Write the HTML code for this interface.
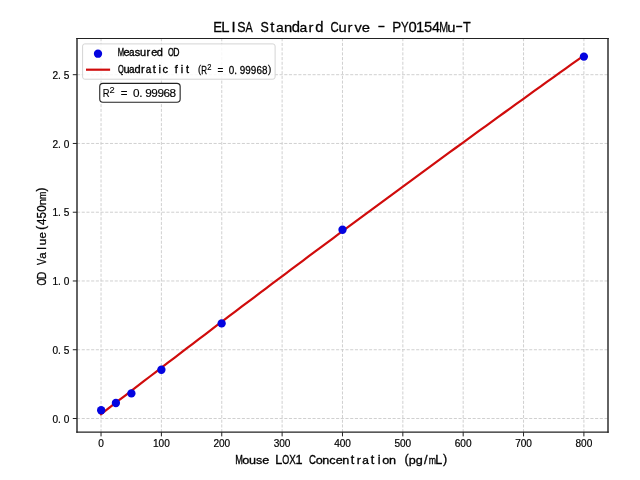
<!DOCTYPE html>
<html><head><meta charset="utf-8"><style>
html,body{margin:0;padding:0;background:#fff;overflow:hidden;}
svg{display:block;}
text{font-family:"Liberation Sans", sans-serif;white-space:pre;}
.t{opacity:0.999;}
</style></head><body>
<svg width="640" height="480" viewBox="0 0 640 480">
<rect width="640" height="480" fill="#fff"/>
<g class="t"><line x1="101.04" y1="432.20" x2="101.04" y2="38.50" stroke="#cecece" stroke-width="0.95" stroke-dasharray="3.1 1.61"/>
<line x1="161.40" y1="432.20" x2="161.40" y2="38.50" stroke="#cecece" stroke-width="0.95" stroke-dasharray="3.1 1.61"/>
<line x1="221.75" y1="432.20" x2="221.75" y2="38.50" stroke="#cecece" stroke-width="0.95" stroke-dasharray="3.1 1.61"/>
<line x1="282.11" y1="432.20" x2="282.11" y2="38.50" stroke="#cecece" stroke-width="0.95" stroke-dasharray="3.1 1.61"/>
<line x1="342.47" y1="432.20" x2="342.47" y2="38.50" stroke="#cecece" stroke-width="0.95" stroke-dasharray="3.1 1.61"/>
<line x1="402.83" y1="432.20" x2="402.83" y2="38.50" stroke="#cecece" stroke-width="0.95" stroke-dasharray="3.1 1.61"/>
<line x1="463.18" y1="432.20" x2="463.18" y2="38.50" stroke="#cecece" stroke-width="0.95" stroke-dasharray="3.1 1.61"/>
<line x1="523.54" y1="432.20" x2="523.54" y2="38.50" stroke="#cecece" stroke-width="0.95" stroke-dasharray="3.1 1.61"/>
<line x1="583.90" y1="432.20" x2="583.90" y2="38.50" stroke="#cecece" stroke-width="0.95" stroke-dasharray="3.1 1.61"/>
<line x1="77.00" y1="418.50" x2="608.00" y2="418.50" stroke="#cecece" stroke-width="0.95" stroke-dasharray="3.1 1.61"/>
<line x1="77.00" y1="349.74" x2="608.00" y2="349.74" stroke="#cecece" stroke-width="0.95" stroke-dasharray="3.1 1.61"/>
<line x1="77.00" y1="280.98" x2="608.00" y2="280.98" stroke="#cecece" stroke-width="0.95" stroke-dasharray="3.1 1.61"/>
<line x1="77.00" y1="212.22" x2="608.00" y2="212.22" stroke="#cecece" stroke-width="0.95" stroke-dasharray="3.1 1.61"/>
<line x1="77.00" y1="143.46" x2="608.00" y2="143.46" stroke="#cecece" stroke-width="0.95" stroke-dasharray="3.1 1.61"/>
<line x1="77.00" y1="74.70" x2="608.00" y2="74.70" stroke="#cecece" stroke-width="0.95" stroke-dasharray="3.1 1.61"/>
<polyline points="101.04,414.14 107.15,409.42 113.26,404.70 119.38,399.99 125.49,395.28 131.60,390.58 137.71,385.88 143.82,381.19 149.94,376.50 156.05,371.82 162.16,367.14 168.27,362.47 174.39,357.80 180.50,353.13 186.61,348.47 192.72,343.82 198.83,339.16 204.95,334.52 211.06,329.88 217.17,325.24 223.28,320.61 229.39,315.98 235.51,311.36 241.62,306.74 247.73,302.12 253.84,297.51 259.95,292.91 266.07,288.31 272.18,283.71 278.29,279.12 284.40,274.53 290.52,269.95 296.63,265.38 302.74,260.80 308.85,256.24 314.96,251.67 321.08,247.11 327.19,242.56 333.30,238.01 339.41,233.47 345.52,228.93 351.64,224.39 357.75,219.86 363.86,215.33 369.97,210.81 376.08,206.29 382.20,201.78 388.31,197.27 394.42,192.77 400.53,188.27 406.65,183.78 412.76,179.29 418.87,174.80 424.98,170.32 431.09,165.85 437.21,161.38 443.32,156.91 449.43,152.45 455.54,147.99 461.65,143.54 467.77,139.09 473.88,134.65 479.99,130.21 486.10,125.78 492.21,121.35 498.33,116.93 504.44,112.51 510.55,108.09 516.66,103.68 522.77,99.27 528.89,94.87 535.00,90.48 541.11,86.08 547.22,81.70 553.34,77.31 559.45,72.93 565.56,68.56 571.67,64.19 577.78,59.83 583.90,55.47" fill="none" stroke="#d00c0c" stroke-width="2.2" stroke-linejoin="round" stroke-linecap="square"/>
<circle cx="101.15" cy="410.2" r="4.15" fill="#0404e0"/>
<circle cx="115.9" cy="403.0" r="4.15" fill="#0404e0"/>
<circle cx="131.4" cy="393.4" r="4.15" fill="#0404e0"/>
<circle cx="161.4" cy="369.75" r="4.15" fill="#0404e0"/>
<circle cx="221.65" cy="323.4" r="4.15" fill="#0404e0"/>
<circle cx="342.5" cy="229.75" r="4.15" fill="#0404e0"/>
<circle cx="583.9" cy="56.6" r="4.15" fill="#0404e0"/>
<line x1="77.0" y1="38.0" x2="77.0" y2="432.8" stroke="#222" stroke-width="1.4"/>
<line x1="608.0" y1="38.0" x2="608.0" y2="432.8" stroke="#222" stroke-width="1.4"/>
<line x1="76.3" y1="38.5" x2="608.7" y2="38.5" stroke="#222" stroke-width="1.1"/>
<line x1="76.3" y1="432.2" x2="608.7" y2="432.2" stroke="#222" stroke-width="1.3"/>
<line x1="101.04" y1="432.2" x2="101.04" y2="436.39" stroke="#222" stroke-width="1.0"/>
<text transform="translate(98.23,447.40) scale(1.000,1.0)" font-size="10.1" stroke="#000" stroke-width="0.2" fill="#000">0</text>
<line x1="161.40" y1="432.2" x2="161.40" y2="436.39" stroke="#222" stroke-width="1.0"/>
<text transform="translate(152.89,447.40) scale(1.000,1.0)" font-size="10.1" stroke="#000" stroke-width="0.2" fill="#000">1</text><text transform="translate(158.59,447.40) scale(1.000,1.0)" font-size="10.1" stroke="#000" stroke-width="0.2" fill="#000">0</text><text transform="translate(164.14,447.40) scale(1.000,1.0)" font-size="10.1" stroke="#000" stroke-width="0.2" fill="#000">0</text>
<line x1="221.75" y1="432.2" x2="221.75" y2="436.39" stroke="#222" stroke-width="1.0"/>
<text transform="translate(213.39,447.40) scale(1.000,1.0)" font-size="10.1" stroke="#000" stroke-width="0.2" fill="#000">2</text><text transform="translate(218.95,447.40) scale(1.000,1.0)" font-size="10.1" stroke="#000" stroke-width="0.2" fill="#000">0</text><text transform="translate(224.50,447.40) scale(1.000,1.0)" font-size="10.1" stroke="#000" stroke-width="0.2" fill="#000">0</text>
<line x1="282.11" y1="432.2" x2="282.11" y2="436.39" stroke="#222" stroke-width="1.0"/>
<text transform="translate(273.78,447.40) scale(1.000,1.0)" font-size="10.1" stroke="#000" stroke-width="0.2" fill="#000">3</text><text transform="translate(279.30,447.40) scale(1.000,1.0)" font-size="10.1" stroke="#000" stroke-width="0.2" fill="#000">0</text><text transform="translate(284.86,447.40) scale(1.000,1.0)" font-size="10.1" stroke="#000" stroke-width="0.2" fill="#000">0</text>
<line x1="342.47" y1="432.2" x2="342.47" y2="436.39" stroke="#222" stroke-width="1.0"/>
<text transform="translate(334.14,447.40) scale(1.000,1.0)" font-size="10.1" stroke="#000" stroke-width="0.2" fill="#000">4</text><text transform="translate(339.66,447.40) scale(1.000,1.0)" font-size="10.1" stroke="#000" stroke-width="0.2" fill="#000">0</text><text transform="translate(345.22,447.40) scale(1.000,1.0)" font-size="10.1" stroke="#000" stroke-width="0.2" fill="#000">0</text>
<line x1="402.83" y1="432.2" x2="402.83" y2="436.39" stroke="#222" stroke-width="1.0"/>
<text transform="translate(394.47,447.40) scale(1.000,1.0)" font-size="10.1" stroke="#000" stroke-width="0.2" fill="#000">5</text><text transform="translate(400.02,447.40) scale(1.000,1.0)" font-size="10.1" stroke="#000" stroke-width="0.2" fill="#000">0</text><text transform="translate(405.57,447.40) scale(1.000,1.0)" font-size="10.1" stroke="#000" stroke-width="0.2" fill="#000">0</text>
<line x1="463.18" y1="432.2" x2="463.18" y2="436.39" stroke="#222" stroke-width="1.0"/>
<text transform="translate(454.78,447.40) scale(1.000,1.0)" font-size="10.1" stroke="#000" stroke-width="0.2" fill="#000">6</text><text transform="translate(460.37,447.40) scale(1.000,1.0)" font-size="10.1" stroke="#000" stroke-width="0.2" fill="#000">0</text><text transform="translate(465.93,447.40) scale(1.000,1.0)" font-size="10.1" stroke="#000" stroke-width="0.2" fill="#000">0</text>
<line x1="523.54" y1="432.2" x2="523.54" y2="436.39" stroke="#222" stroke-width="1.0"/>
<text transform="translate(515.17,447.40) scale(1.000,1.0)" font-size="10.1" stroke="#000" stroke-width="0.2" fill="#000">7</text><text transform="translate(520.73,447.40) scale(1.000,1.0)" font-size="10.1" stroke="#000" stroke-width="0.2" fill="#000">0</text><text transform="translate(526.29,447.40) scale(1.000,1.0)" font-size="10.1" stroke="#000" stroke-width="0.2" fill="#000">0</text>
<line x1="583.90" y1="432.2" x2="583.90" y2="436.39" stroke="#222" stroke-width="1.0"/>
<text transform="translate(575.53,447.40) scale(1.000,1.0)" font-size="10.1" stroke="#000" stroke-width="0.2" fill="#000">8</text><text transform="translate(581.09,447.40) scale(1.000,1.0)" font-size="10.1" stroke="#000" stroke-width="0.2" fill="#000">0</text><text transform="translate(586.64,447.40) scale(1.000,1.0)" font-size="10.1" stroke="#000" stroke-width="0.2" fill="#000">0</text>
<line x1="72.81" y1="418.50" x2="77.0" y2="418.50" stroke="#222" stroke-width="1.0"/>
<text transform="translate(52.52,422.60) scale(1.000,1.0)" font-size="10.1" stroke="#000" stroke-width="0.2" fill="#000">0</text><text transform="translate(58.09,422.60) scale(1.000,1.0)" font-size="10.1" stroke="#000" stroke-width="0.2" fill="#000">.</text><text transform="translate(63.63,422.60) scale(1.000,1.0)" font-size="10.1" stroke="#000" stroke-width="0.2" fill="#000">0</text>
<line x1="72.81" y1="349.74" x2="77.0" y2="349.74" stroke="#222" stroke-width="1.0"/>
<text transform="translate(52.52,353.84) scale(1.000,1.0)" font-size="10.1" stroke="#000" stroke-width="0.2" fill="#000">0</text><text transform="translate(58.09,353.84) scale(1.000,1.0)" font-size="10.1" stroke="#000" stroke-width="0.2" fill="#000">.</text><text transform="translate(63.64,353.84) scale(1.000,1.0)" font-size="10.1" stroke="#000" stroke-width="0.2" fill="#000">5</text>
<line x1="72.81" y1="280.98" x2="77.0" y2="280.98" stroke="#222" stroke-width="1.0"/>
<text transform="translate(52.38,285.08) scale(1.000,1.0)" font-size="10.1" stroke="#000" stroke-width="0.2" fill="#000">1</text><text transform="translate(58.09,285.08) scale(1.000,1.0)" font-size="10.1" stroke="#000" stroke-width="0.2" fill="#000">.</text><text transform="translate(63.63,285.08) scale(1.000,1.0)" font-size="10.1" stroke="#000" stroke-width="0.2" fill="#000">0</text>
<line x1="72.81" y1="212.22" x2="77.0" y2="212.22" stroke="#222" stroke-width="1.0"/>
<text transform="translate(52.38,216.32) scale(1.000,1.0)" font-size="10.1" stroke="#000" stroke-width="0.2" fill="#000">1</text><text transform="translate(58.09,216.32) scale(1.000,1.0)" font-size="10.1" stroke="#000" stroke-width="0.2" fill="#000">.</text><text transform="translate(63.64,216.32) scale(1.000,1.0)" font-size="10.1" stroke="#000" stroke-width="0.2" fill="#000">5</text>
<line x1="72.81" y1="143.46" x2="77.0" y2="143.46" stroke="#222" stroke-width="1.0"/>
<text transform="translate(52.52,147.56) scale(1.000,1.0)" font-size="10.1" stroke="#000" stroke-width="0.2" fill="#000">2</text><text transform="translate(58.09,147.56) scale(1.000,1.0)" font-size="10.1" stroke="#000" stroke-width="0.2" fill="#000">.</text><text transform="translate(63.63,147.56) scale(1.000,1.0)" font-size="10.1" stroke="#000" stroke-width="0.2" fill="#000">0</text>
<line x1="72.81" y1="74.70" x2="77.0" y2="74.70" stroke="#222" stroke-width="1.0"/>
<text transform="translate(52.52,78.80) scale(1.000,1.0)" font-size="10.1" stroke="#000" stroke-width="0.2" fill="#000">2</text><text transform="translate(58.09,78.80) scale(1.000,1.0)" font-size="10.1" stroke="#000" stroke-width="0.2" fill="#000">.</text><text transform="translate(63.64,78.80) scale(1.000,1.0)" font-size="10.1" stroke="#000" stroke-width="0.2" fill="#000">5</text>
<text transform="translate(213.36,31.50) scale(0.892,1.0)" font-size="14.8" stroke="#000" stroke-width="0.3" fill="#000">E</text><text transform="translate(221.32,31.50) scale(1.000,1.0)" font-size="14.8" stroke="#000" stroke-width="0.3" fill="#000">L</text><text transform="translate(231.52,31.50) scale(1.000,1.0)" font-size="14.8" stroke="#000" stroke-width="0.3" fill="#000">I</text><text transform="translate(237.22,31.50) scale(0.840,1.0)" font-size="14.8" stroke="#000" stroke-width="0.3" fill="#000">S</text><text transform="translate(245.54,31.50) scale(0.729,1.0)" font-size="14.8" stroke="#000" stroke-width="0.3" fill="#000">A</text><text transform="translate(260.56,31.50) scale(0.840,1.0)" font-size="14.8" stroke="#000" stroke-width="0.3" fill="#000">S</text><text transform="translate(270.37,31.50) scale(1.000,0.96)" font-size="14.8" stroke="#000" stroke-width="0.3" fill="#000">t</text><text transform="translate(276.09,31.50) scale(0.941,0.92)" font-size="14.8" stroke="#000" stroke-width="0.3" fill="#000">a</text><text transform="translate(283.91,31.50) scale(1.000,0.92)" font-size="14.8" stroke="#000" stroke-width="0.3" fill="#000">n</text><text transform="translate(291.87,31.50) scale(1.000,0.96)" font-size="14.8" stroke="#000" stroke-width="0.3" fill="#000">d</text><text transform="translate(299.43,31.50) scale(0.941,0.92)" font-size="14.8" stroke="#000" stroke-width="0.3" fill="#000">a</text><text transform="translate(308.55,31.50) scale(1.000,0.92)" font-size="14.8" stroke="#000" stroke-width="0.3" fill="#000">r</text><text transform="translate(315.21,31.50) scale(1.000,0.96)" font-size="14.8" stroke="#000" stroke-width="0.3" fill="#000">d</text><text transform="translate(330.57,31.50) scale(0.764,1.0)" font-size="14.8" stroke="#000" stroke-width="0.3" fill="#000">C</text><text transform="translate(338.40,31.50) scale(1.000,0.92)" font-size="14.8" stroke="#000" stroke-width="0.3" fill="#000">u</text><text transform="translate(347.45,31.50) scale(1.000,0.92)" font-size="14.8" stroke="#000" stroke-width="0.3" fill="#000">r</text><text transform="translate(354.43,31.50) scale(0.981,0.92)" font-size="14.8" stroke="#000" stroke-width="0.3" fill="#000">v</text><text transform="translate(361.74,31.50) scale(1.000,0.92)" font-size="14.8" stroke="#000" stroke-width="0.3" fill="#000">e</text><text transform="translate(378.48,30.17) scale(0.710,1.0)" font-size="14.8" stroke="#000" stroke-width="0.3" fill="#000">–</text><text transform="translate(392.28,31.50) scale(0.909,1.0)" font-size="14.8" stroke="#000" stroke-width="0.3" fill="#000">P</text><text transform="translate(400.91,31.50) scale(0.776,1.0)" font-size="14.8" stroke="#000" stroke-width="0.3" fill="#000">Y</text><text transform="translate(408.40,31.50) scale(1.000,1.0)" font-size="14.8" stroke="#000" stroke-width="0.3" fill="#000">0</text><text transform="translate(415.98,31.50) scale(1.000,1.0)" font-size="14.8" stroke="#000" stroke-width="0.3" fill="#000">1</text><text transform="translate(423.98,31.50) scale(1.000,1.0)" font-size="14.8" stroke="#000" stroke-width="0.3" fill="#000">5</text><text transform="translate(431.96,31.50) scale(0.960,1.0)" font-size="14.8" stroke="#000" stroke-width="0.3" fill="#000">4</text><text transform="translate(439.18,31.50) scale(0.723,1.0)" font-size="14.8" stroke="#000" stroke-width="0.3" fill="#000">M</text><text transform="translate(447.32,31.50) scale(1.000,0.92)" font-size="14.8" stroke="#000" stroke-width="0.3" fill="#000">u</text><text transform="translate(456.28,30.17) scale(0.710,1.0)" font-size="14.8" stroke="#000" stroke-width="0.3" fill="#000">–</text><text transform="translate(463.12,31.50) scale(0.855,1.0)" font-size="14.8" stroke="#000" stroke-width="0.3" fill="#000">T</text>
<text transform="translate(235.34,463.60) scale(0.728,1.0)" font-size="12.6" stroke="#000" stroke-width="0.35" fill="#000">M</text><text transform="translate(242.32,463.60) scale(1.000,0.92)" font-size="12.6" stroke="#000" stroke-width="0.35" fill="#000">o</text><text transform="translate(249.00,463.60) scale(1.000,0.92)" font-size="12.6" stroke="#000" stroke-width="0.35" fill="#000">u</text><text transform="translate(256.06,463.60) scale(1.000,0.92)" font-size="12.6" stroke="#000" stroke-width="0.35" fill="#000">s</text><text transform="translate(262.34,463.60) scale(1.000,0.92)" font-size="12.6" stroke="#000" stroke-width="0.35" fill="#000">e</text><text transform="translate(275.35,463.60) scale(1.000,1.0)" font-size="12.6" stroke="#000" stroke-width="0.35" fill="#000">L</text><text transform="translate(282.34,463.60) scale(0.713,1.0)" font-size="12.6" stroke="#000" stroke-width="0.35" fill="#000">O</text><text transform="translate(289.21,463.60) scale(0.781,1.0)" font-size="12.6" stroke="#000" stroke-width="0.35" fill="#000">X</text><text transform="translate(295.49,463.60) scale(1.000,1.0)" font-size="12.6" stroke="#000" stroke-width="0.35" fill="#000">1</text><text transform="translate(308.94,463.60) scale(0.769,1.0)" font-size="12.6" stroke="#000" stroke-width="0.35" fill="#000">C</text><text transform="translate(315.66,463.60) scale(1.000,0.92)" font-size="12.6" stroke="#000" stroke-width="0.35" fill="#000">o</text><text transform="translate(322.32,463.60) scale(1.000,0.92)" font-size="12.6" stroke="#000" stroke-width="0.35" fill="#000">n</text><text transform="translate(329.25,463.60) scale(1.000,0.92)" font-size="12.6" stroke="#000" stroke-width="0.35" fill="#000">c</text><text transform="translate(335.68,463.60) scale(1.000,0.92)" font-size="12.6" stroke="#000" stroke-width="0.35" fill="#000">e</text><text transform="translate(342.32,463.60) scale(1.000,0.92)" font-size="12.6" stroke="#000" stroke-width="0.35" fill="#000">n</text><text transform="translate(350.70,463.60) scale(1.000,0.96)" font-size="12.6" stroke="#000" stroke-width="0.35" fill="#000">t</text><text transform="translate(356.76,463.60) scale(1.000,0.92)" font-size="12.6" stroke="#000" stroke-width="0.35" fill="#000">r</text><text transform="translate(362.26,463.60) scale(0.948,0.92)" font-size="12.6" stroke="#000" stroke-width="0.35" fill="#000">a</text><text transform="translate(370.70,463.60) scale(1.000,0.96)" font-size="12.6" stroke="#000" stroke-width="0.35" fill="#000">t</text><text transform="translate(377.77,463.60) scale(1.000,0.96)" font-size="12.6" stroke="#000" stroke-width="0.35" fill="#000">i</text><text transform="translate(382.33,463.60) scale(1.000,0.92)" font-size="12.6" stroke="#000" stroke-width="0.35" fill="#000">o</text><text transform="translate(388.99,463.60) scale(1.000,0.92)" font-size="12.6" stroke="#000" stroke-width="0.35" fill="#000">n</text><text transform="translate(404.45,462.66) scale(1.000,1.0)" font-size="12.6" stroke="#000" stroke-width="0.35" fill="#000">(</text><text transform="translate(408.86,463.60) scale(1.000,0.92)" font-size="12.6" stroke="#000" stroke-width="0.35" fill="#000">p</text><text transform="translate(415.81,463.60) scale(1.000,0.92)" font-size="12.6" stroke="#000" stroke-width="0.35" fill="#000">g</text><text transform="translate(424.09,463.60) scale(1.000,1.0)" font-size="12.6" stroke="#000" stroke-width="0.35" fill="#000">/</text><text transform="translate(428.86,463.60) scale(0.695,0.92)" font-size="12.6" stroke="#000" stroke-width="0.35" fill="#000">m</text><text transform="translate(435.36,463.60) scale(1.000,1.0)" font-size="12.6" stroke="#000" stroke-width="0.35" fill="#000">L</text><text transform="translate(442.89,462.66) scale(1.000,1.0)" font-size="12.6" stroke="#000" stroke-width="0.35" fill="#000">)</text>
<g transform="translate(46.0,235.25) rotate(-90)"><text transform="translate(-50.16,0.00) scale(0.713,1.0)" font-size="12.6" stroke="#000" stroke-width="0.3" fill="#000">O</text><text transform="translate(-43.92,0.00) scale(0.822,1.0)" font-size="12.6" stroke="#000" stroke-width="0.3" fill="#000">D</text><text transform="translate(-29.78,0.00) scale(0.740,1.0)" font-size="12.6" stroke="#000" stroke-width="0.3" fill="#000">V</text><text transform="translate(-23.47,0.00) scale(0.920,0.92)" font-size="12.6" stroke="#000" stroke-width="0.3" fill="#000">a</text><text transform="translate(-14.62,0.00) scale(0.920,0.96)" font-size="12.6" stroke="#000" stroke-width="0.3" fill="#000">l</text><text transform="translate(-9.88,0.00) scale(0.920,0.92)" font-size="12.6" stroke="#000" stroke-width="0.3" fill="#000">u</text><text transform="translate(-3.21,0.00) scale(0.920,0.92)" font-size="12.6" stroke="#000" stroke-width="0.3" fill="#000">e</text><text transform="translate(5.48,-0.94) scale(0.920,1.0)" font-size="12.6" stroke="#000" stroke-width="0.3" fill="#000">(</text><text transform="translate(10.15,0.00) scale(0.920,1.0)" font-size="12.6" stroke="#000" stroke-width="0.3" fill="#000">4</text><text transform="translate(16.79,0.00) scale(0.920,1.0)" font-size="12.6" stroke="#000" stroke-width="0.3" fill="#000">5</text><text transform="translate(23.44,0.00) scale(0.920,1.0)" font-size="12.6" stroke="#000" stroke-width="0.3" fill="#000">0</text><text transform="translate(30.10,0.00) scale(0.920,0.92)" font-size="12.6" stroke="#000" stroke-width="0.3" fill="#000">n</text><text transform="translate(36.35,0.00) scale(0.695,0.92)" font-size="12.6" stroke="#000" stroke-width="0.3" fill="#000">m</text><text transform="translate(43.86,-0.94) scale(0.920,1.0)" font-size="12.6" stroke="#000" stroke-width="0.3" fill="#000">)</text></g>
<rect x="82.6" y="43.9" width="192.5" height="35.3" rx="2.2" fill="#fff" fill-opacity="0.85" stroke="#d4d4d4" stroke-width="1"/>
<circle cx="98.0" cy="53.7" r="4.15" fill="#0404e0"/>
<line x1="86.0" y1="69.7" x2="110.1" y2="69.7" stroke="#d00c0c" stroke-width="2.2"/>
<text transform="translate(117.70,56.20) scale(0.695,1.0)" font-size="11.0" stroke="#000" stroke-width="0.35" fill="#000">M</text><text transform="translate(123.42,56.20) scale(0.990,0.92)" font-size="11.0" stroke="#000" stroke-width="0.35" fill="#000">e</text><text transform="translate(129.01,56.20) scale(0.905,0.92)" font-size="11.0" stroke="#000" stroke-width="0.35" fill="#000">a</text><text transform="translate(134.84,56.20) scale(1.000,0.92)" font-size="11.0" stroke="#000" stroke-width="0.35" fill="#000">s</text><text transform="translate(140.05,56.20) scale(1.000,0.92)" font-size="11.0" stroke="#000" stroke-width="0.35" fill="#000">u</text><text transform="translate(146.55,56.20) scale(1.000,0.92)" font-size="11.0" stroke="#000" stroke-width="0.35" fill="#000">r</text><text transform="translate(151.20,56.20) scale(0.990,0.92)" font-size="11.0" stroke="#000" stroke-width="0.35" fill="#000">e</text><text transform="translate(156.83,56.20) scale(1.000,0.96)" font-size="11.0" stroke="#000" stroke-width="0.35" fill="#000">d</text><text transform="translate(167.97,56.20) scale(0.681,1.0)" font-size="11.0" stroke="#000" stroke-width="0.35" fill="#000">O</text><text transform="translate(173.17,56.20) scale(0.785,1.0)" font-size="11.0" stroke="#000" stroke-width="0.35" fill="#000">D</text>
<text transform="translate(117.97,73.30) scale(0.681,1.0)" font-size="11.0" stroke="#000" stroke-width="0.35" fill="#000">Q</text><text transform="translate(123.38,73.30) scale(1.000,0.92)" font-size="11.0" stroke="#000" stroke-width="0.35" fill="#000">u</text><text transform="translate(129.01,73.30) scale(0.905,0.92)" font-size="11.0" stroke="#000" stroke-width="0.35" fill="#000">a</text><text transform="translate(134.61,73.30) scale(1.000,0.96)" font-size="11.0" stroke="#000" stroke-width="0.35" fill="#000">d</text><text transform="translate(141.00,73.30) scale(1.000,0.92)" font-size="11.0" stroke="#000" stroke-width="0.35" fill="#000">r</text><text transform="translate(145.68,73.30) scale(0.905,0.92)" font-size="11.0" stroke="#000" stroke-width="0.35" fill="#000">a</text><text transform="translate(152.64,73.30) scale(1.000,0.96)" font-size="11.0" stroke="#000" stroke-width="0.35" fill="#000">t</text><text transform="translate(158.55,73.30) scale(1.000,0.96)" font-size="11.0" stroke="#000" stroke-width="0.35" fill="#000">i</text><text transform="translate(162.49,73.30) scale(1.000,0.92)" font-size="11.0" stroke="#000" stroke-width="0.35" fill="#000">c</text><text transform="translate(174.82,73.30) scale(1.000,0.96)" font-size="11.0" stroke="#000" stroke-width="0.35" fill="#000">f</text><text transform="translate(180.77,73.30) scale(1.000,0.96)" font-size="11.0" stroke="#000" stroke-width="0.35" fill="#000">i</text><text transform="translate(185.98,73.30) scale(1.000,0.96)" font-size="11.0" stroke="#000" stroke-width="0.35" fill="#000">t</text>
<text transform="translate(198.05,72.67) scale(0.840,1.0)" font-size="11.0" stroke="#000" stroke-width="0.25" fill="#000">(</text>
<text transform="translate(201.21,73.50) scale(0.750,1.0)" font-size="10.6" stroke="#000" stroke-width="0.25" fill="#000">R</text>
<text transform="translate(207.37,69.70) scale(0.900,1.0)" font-size="8.4" stroke="#000" stroke-width="0.15" fill="#000">2</text>
<text transform="translate(217.40,73.50) scale(0.950,1.0)" font-size="10.4" stroke="#000" stroke-width="0.25" fill="#000">=</text><text transform="translate(228.64,73.50) scale(0.950,1.0)" font-size="10.4" stroke="#000" stroke-width="0.25" fill="#000">0</text><text transform="translate(234.19,73.50) scale(0.950,1.0)" font-size="10.4" stroke="#000" stroke-width="0.25" fill="#000">.</text><text transform="translate(239.76,73.50) scale(0.950,1.0)" font-size="10.4" stroke="#000" stroke-width="0.25" fill="#000">9</text><text transform="translate(245.32,73.50) scale(0.950,1.0)" font-size="10.4" stroke="#000" stroke-width="0.25" fill="#000">9</text><text transform="translate(250.87,73.50) scale(0.950,1.0)" font-size="10.4" stroke="#000" stroke-width="0.25" fill="#000">9</text><text transform="translate(256.39,73.50) scale(0.950,1.0)" font-size="10.4" stroke="#000" stroke-width="0.25" fill="#000">6</text><text transform="translate(261.98,73.50) scale(0.950,1.0)" font-size="10.4" stroke="#000" stroke-width="0.25" fill="#000">8</text><text transform="translate(267.92,72.72) scale(0.950,1.0)" font-size="10.4" stroke="#000" stroke-width="0.25" fill="#000">)</text>
<rect x="99.75" y="83.4" width="80.4" height="18.8" rx="3.2" fill="#fff" stroke="#222" stroke-width="1.1"/>
<text transform="translate(102.77,96.90) scale(0.802,1.0)" font-size="11.8" stroke="#000" stroke-width="0.15" fill="#000">R</text>
<text transform="translate(109.54,92.80) scale(1.000,1.0)" font-size="9.3" stroke="#000" stroke-width="0.1" fill="#000">2</text>
<text transform="translate(120.64,96.90) scale(0.981,1.0)" font-size="11.8" stroke="#000" stroke-width="0.15" fill="#000">=</text><text transform="translate(132.97,96.90) scale(0.997,1.0)" font-size="11.8" stroke="#000" stroke-width="0.15" fill="#000">0</text><text transform="translate(139.18,96.90) scale(1.000,1.0)" font-size="11.8" stroke="#000" stroke-width="0.15" fill="#000">.</text><text transform="translate(145.18,96.90) scale(1.000,1.0)" font-size="11.8" stroke="#000" stroke-width="0.15" fill="#000">9</text><text transform="translate(151.29,96.90) scale(1.000,1.0)" font-size="11.8" stroke="#000" stroke-width="0.15" fill="#000">9</text><text transform="translate(157.40,96.90) scale(1.000,1.0)" font-size="11.8" stroke="#000" stroke-width="0.15" fill="#000">9</text><text transform="translate(163.46,96.90) scale(1.000,1.0)" font-size="11.8" stroke="#000" stroke-width="0.15" fill="#000">6</text><text transform="translate(169.61,96.90) scale(1.000,1.0)" font-size="11.8" stroke="#000" stroke-width="0.15" fill="#000">8</text></g>
</svg></body></html>
